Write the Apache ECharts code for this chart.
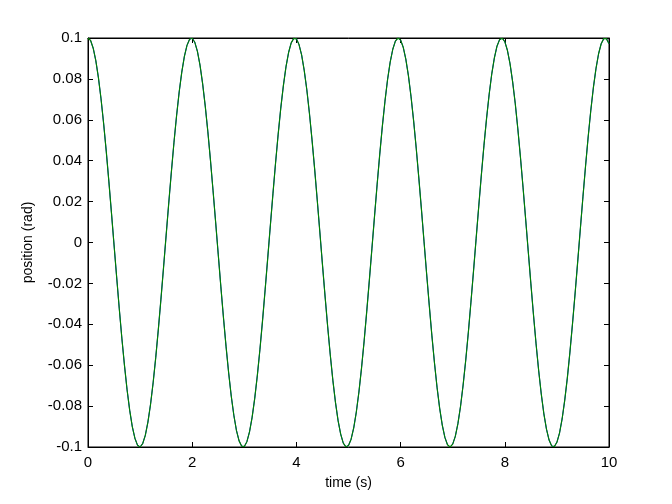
<!DOCTYPE html>
<html>
<head>
<meta charset="utf-8">
<script src="https://cdn.jsdelivr.net/npm/echarts@6/dist/echarts.min.js"></script>
<style>
html,body{margin:0;padding:0;background:#fff;}
#chart{width:672px;height:504px;}
</style>
</head>
<body>
<div id="chart"></div>
<script>
// time samples (s), every 0.05 s
const time = [
0,0.05,0.1,0.15,0.2,0.25,0.3,0.35,0.4,0.45,0.5,0.55,0.6,0.65,0.7,0.75,0.8,0.85,0.9,0.95,
1,1.05,1.1,1.15,1.2,1.25,1.3,1.35,1.4,1.45,1.5,1.55,1.6,1.65,1.7,1.75,1.8,1.85,1.9,1.95,
2,2.05,2.1,2.15,2.2,2.25,2.3,2.35,2.4,2.45,2.5,2.55,2.6,2.65,2.7,2.75,2.8,2.85,2.9,2.95,
3,3.05,3.1,3.15,3.2,3.25,3.3,3.35,3.4,3.45,3.5,3.55,3.6,3.65,3.7,3.75,3.8,3.85,3.9,3.95,
4,4.05,4.1,4.15,4.2,4.25,4.3,4.35,4.4,4.45,4.5,4.55,4.6,4.65,4.7,4.75,4.8,4.85,4.9,4.95,
5,5.05,5.1,5.15,5.2,5.25,5.3,5.35,5.4,5.45,5.5,5.55,5.6,5.65,5.7,5.75,5.8,5.85,5.9,5.95,
6,6.05,6.1,6.15,6.2,6.25,6.3,6.35,6.4,6.45,6.5,6.55,6.6,6.65,6.7,6.75,6.8,6.85,6.9,6.95,
7,7.05,7.1,7.15,7.2,7.25,7.3,7.35,7.4,7.45,7.5,7.55,7.6,7.65,7.7,7.75,7.8,7.85,7.9,7.95,
8,8.05,8.1,8.15,8.2,8.25,8.3,8.35,8.4,8.45,8.5,8.55,8.6,8.65,8.7,8.75,8.8,8.85,8.9,8.95,
9,9.05,9.1,9.15,9.2,9.25,9.3,9.35,9.4,9.45,9.5,9.55,9.6,9.65,9.7,9.75,9.8,9.85,9.9,9.95,
10
];
// position (rad)
const positionGreen = [
0.1000,0.0988,0.0950,0.0889,0.0806,0.0703,0.0582,0.0447,0.0300,0.0146,
-0.0012,-0.0169,-0.0323,-0.0468,-0.0601,-0.0720,-0.0820,-0.0900,-0.0957,-0.0991,
-0.1000,-0.0983,-0.0943,-0.0878,-0.0792,-0.0686,-0.0563,-0.0425,-0.0277,-0.0122,
0.0036,0.0193,0.0345,0.0489,0.0620,0.0736,0.0833,0.0910,0.0964,0.0994,
0.0999,0.0979,0.0935,0.0867,0.0777,0.0668,0.0543,0.0404,0.0254,0.0099,
-0.0059,-0.0216,-0.0367,-0.0509,-0.0638,-0.0752,-0.0846,-0.0920,-0.0970,-0.0996,
-0.0998,-0.0974,-0.0926,-0.0855,-0.0762,-0.0651,-0.0523,-0.0382,-0.0231,-0.0075,
0.0083,0.0239,0.0389,0.0529,0.0657,0.0767,0.0859,0.0929,0.0976,0.0998,
0.0996,0.0968,0.0917,0.0842,0.0747,0.0632,0.0502,0.0360,0.0208,0.0051,
-0.0107,-0.0262,-0.0411,-0.0549,-0.0674,-0.0782,-0.0871,-0.0937,-0.0981,-0.0999,
-0.0993,-0.0962,-0.0907,-0.0829,-0.0731,-0.0614,-0.0482,-0.0337,-0.0185,-0.0028,
0.0130,0.0285,0.0432,0.0569,0.0691,0.0797,0.0882,0.0945,0.0985,0.1000,
0.0990,0.0955,0.0897,0.0816,0.0714,0.0595,0.0461,0.0315,0.0162,0.0004,
-0.0154,-0.0307,-0.0454,-0.0588,-0.0709,-0.0811,-0.0893,-0.0953,-0.0989,-0.1000,
-0.0986,-0.0948,-0.0886,-0.0802,-0.0697,-0.0576,-0.0440,-0.0292,-0.0138,0.0020,
0.0177,0.0330,0.0475,0.0607,0.0725,0.0825,0.0903,0.0960,0.0992,0.0999,
0.0982,0.0940,0.0875,0.0787,0.0681,0.0556,0.0418,0.0270,0.0115,-0.0043,
-0.0200,-0.0352,-0.0495,-0.0626,-0.0741,-0.0838,-0.0913,-0.0966,-0.0995,-0.0998,
-0.0977,-0.0932,-0.0863,-0.0772,-0.0663,-0.0536,-0.0396,-0.0247,-0.0091,0.0067,
0.0224,0.0374,0.0516,0.0644,0.0757,0.0850,0.0923,0.0972,0.0997,0.0997,
0.0972
];
// the blue curve lies on top of the green one everywhere in the picture
const positionBlue = positionGreen.slice();

const xName = 'time (s)';
const yName = 'position (rad)';

const font = 'Liberation Sans, Arial, sans-serif';
const chart = echarts.init(document.getElementById('chart'), null, {renderer: 'canvas'});

const pairs = arr => time.map((t, i) => [t, arr[i]]);

const tickStyle = {show: true, inside: true, length: 5, lineStyle: {color: '#000', width: 1}};
const lineStyle = {show: true, onZero: false, lineStyle: {color: '#000', width: 1}};

chart.setOption({
  animation: false,
  backgroundColor: '#ffffff',
  grid: {left: 88, right: 63, top: 38, bottom: 57, show: true, borderColor: '#000', borderWidth: 1, backgroundColor: '#fff'},
  xAxis: [
    {
      type: 'value', min: 0, max: 10, interval: 2, position: 'bottom',
      name: xName, nameLocation: 'middle', nameGap: 29,
      nameTextStyle: {color: '#000', fontSize: 14, fontFamily: font},
      axisLine: lineStyle, axisTick: tickStyle, splitLine: {show: false},
      axisLabel: {color: '#000', fontSize: 15, fontFamily: font, margin: 8}
    },
    {
      type: 'value', min: 0, max: 10, interval: 2, position: 'top',
      axisLine: lineStyle, axisTick: tickStyle, splitLine: {show: false},
      axisLabel: {show: false}
    }
  ],
  yAxis: [
    {
      type: 'value', min: -0.1, max: 0.1, interval: 0.02, position: 'left',
      name: yName, nameLocation: 'middle', nameGap: 53,
      nameTextStyle: {color: '#000', fontSize: 14, fontFamily: font},
      axisLine: lineStyle, axisTick: tickStyle, splitLine: {show: false},
      axisLabel: {color: '#000', fontSize: 15, fontFamily: font, margin: 6,
        formatter: v => String(+v.toFixed(2))}
    },
    {
      type: 'value', min: -0.1, max: 0.1, interval: 0.02, position: 'right',
      axisLine: lineStyle, axisTick: tickStyle, splitLine: {show: false},
      axisLabel: {show: false}
    }
  ],
  series: [
    {
      type: 'line', data: pairs(positionBlue), showSymbol: false, smooth: false,
      lineStyle: {color: '#0000ff', width: 1}, itemStyle: {color: '#0000ff'}, z: 2
    },
    {
      type: 'line', data: pairs(positionGreen), showSymbol: false, smooth: false,
      lineStyle: {color: '#008000', width: 1.2}, itemStyle: {color: '#008000'}, z: 3
    }
  ]
});
</script>
</body>
</html>
